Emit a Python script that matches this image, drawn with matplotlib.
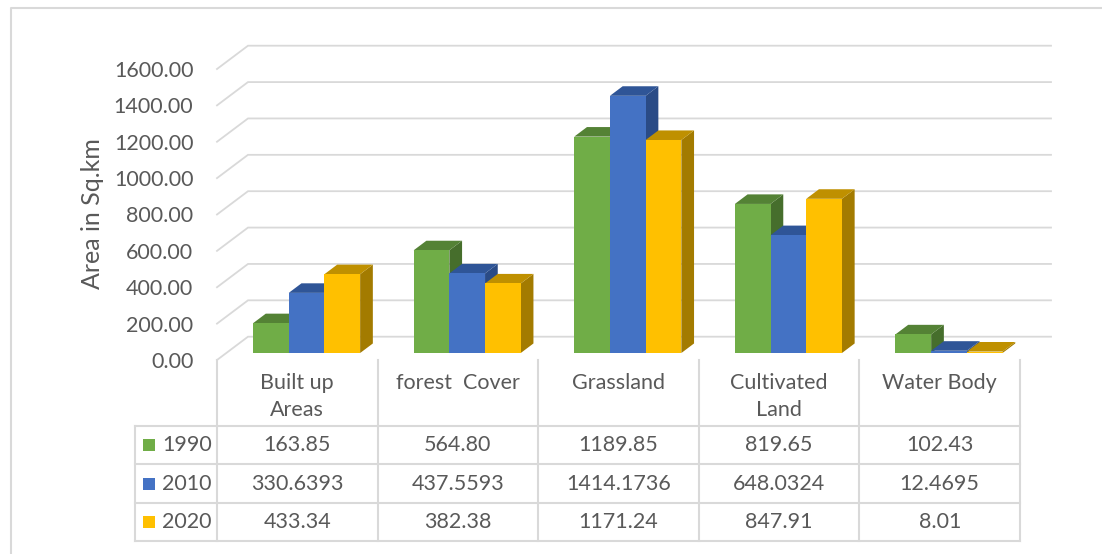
import matplotlib.pyplot as plt
from matplotlib.patches import Rectangle, Polygon

categories = ['Built up\nAreas', 'forest  Cover', 'Grassland', 'Cultivated\nLand', 'Water Body']
years = ['1990', '2010', '2020']
v1990 = [163.85, 564.80, 1189.85, 819.65, 102.43]
v2010 = [330.6393, 437.5593, 1414.1736, 648.0324, 12.4695]
v2020 = [433.34, 382.38, 1171.24, 847.91, 8.01]
series = [v1990, v2010, v2020]
fmts = ['{:.2f}', '{:.4f}', '{:.2f}']
yticks = [0, 200, 400, 600, 800, 1000, 1200, 1400, 1600]

front = ['#70AD47', '#4472C4', '#FFC000']
top = ['#548235', '#2F5597', '#BF9000']
side = ['#466E2C', '#2A4B86', '#A37B00']
grid = '#D9D9D9'
txt = '#595959'
fs = 15.5

plt.rcParams['font.family'] = ['Lato', 'DejaVu Sans']

W, H = 1102, 554
fig = plt.figure(figsize=(W / 100, H / 100), dpi=100)

# overlay in pixel coords for frame, table, axis title
ov = fig.add_axes([0, 0, 1, 1])
ov.set_xlim(0, W)
ov.set_ylim(H, 0)
ov.axis('off')

# plot area: front plane of the 3d box
x0p, x1p, y0p, y1p = 217, 1020, 360, 69
ax = fig.add_axes([x0p / W, (H - y0p) / H, (x1p - x0p) / W, (y0p - y1p) / H])
ax.set_xlim(0, len(categories))
ax.set_ylim(0, 1600)
ax.patch.set_visible(False)
for s in ax.spines.values():
    s.set_visible(False)
ax.set_xticks([])
ax.set_yticks(yticks)
ax.set_yticklabels(['{:.2f}'.format(t) for t in yticks], fontsize=fs, color=txt)
ax.tick_params(axis='y', length=0, pad=17)

# depth of the box in data units
cat_px = (x1p - x0p) / len(categories)
px_per_val = (y0p - y1p) / 1600
DX = 31 / cat_px
DY = 23.3 / px_per_val

# gridlines on side wall + back wall
for t in yticks:
    ax.plot([0, DX, len(categories) + DX], [t, t + DY, t + DY], color=grid, lw=1.3,
            clip_on=False, zorder=1, solid_joinstyle='miter')

# 3d bars
w = 1 / 4.5
d0, d1 = 0.30, 0.71
bx, by = d0 * DX, d0 * DY
tx, ty = (d1 - d0) * DX, (d1 - d0) * DY
z = 2
for i in range(len(categories)):
    for j, vals in enumerate(series):
        v = vals[i]
        xl = i + 0.5 - 1.5 * w + j * w + bx
        ax.add_patch(Polygon([(xl + w, by), (xl + w, by + v), (xl + w + tx, by + v + ty),
                              (xl + w + tx, by + ty)], closed=True, fc=side[j], ec='none',
                             clip_on=False, zorder=z))
        ax.add_patch(Polygon([(xl, by + v), (xl + w, by + v), (xl + w + tx, by + v + ty),
                              (xl + tx, by + v + ty)], closed=True, fc=top[j], ec='none',
                             clip_on=False, zorder=z))
        ax.add_patch(Rectangle((xl, by), w, v, fc=front[j], ec='none', clip_on=False, zorder=z))
        z += 1

# axis title
ov.text(92, 214, 'Area in Sq.km', rotation=90, ha='center', va='center', fontsize=18, color=txt)

# outer frame (top and left only visible)
ov.plot([11, 11, W + 5], [H + 5, 8, 8], color=grid, lw=1.5)

# data table
col = [x0p + k * cat_px for k in range(len(categories) + 1)]
rows = [426, 464, 503, 541]
for xc in col:
    ov.plot([xc, xc], [360, rows[-1]], color=grid, lw=1.5)
ov.plot([135, 135], [rows[0], rows[-1]], color=grid, lw=1.5)
for yr in rows:
    ov.plot([135, col[-1]], [yr, yr], color=grid, lw=1.5)

for i, c in enumerate(categories):
    xc = (col[i] + col[i + 1]) / 2
    for k, line in enumerate(c.split('\n')):
        ov.text(xc, 383 + 27 * k, line, ha='center', va='center', fontsize=fs, color=txt)

for j, yr in enumerate(years):
    yc = (rows[j] + rows[j + 1]) / 2
    ov.add_patch(Rectangle((143, yc - 6), 12, 12, fc=front[j], ec='none'))
    ov.text(162, yc, yr, ha='left', va='center', fontsize=fs, color=txt)
    for i in range(len(categories)):
        xc = (col[i] + col[i + 1]) / 2
        ov.text(xc, yc, fmts[j].format(series[j][i]), ha='center', va='center',
                fontsize=fs, color=txt)

fig.savefig('out.png', dpi=100, facecolor='white')
